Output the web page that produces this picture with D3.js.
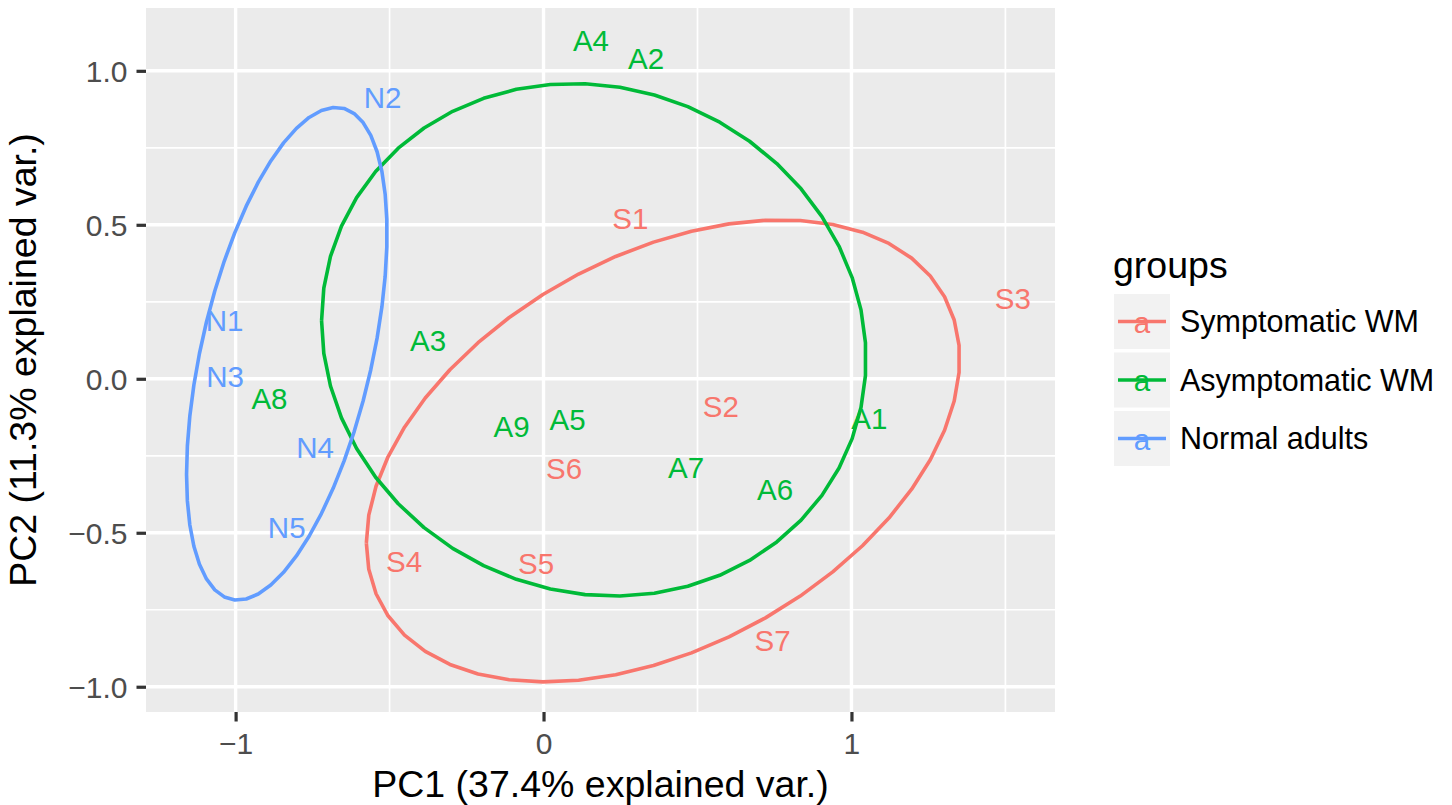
<!DOCTYPE html>
<html>
<head>
<meta charset="utf-8">
<script src="https://cdn.jsdelivr.net/npm/d3@7"></script>
<style>
  html, body { margin: 0; padding: 0; background: #ffffff; }
  svg { display: block; font-family: "Liberation Sans", Arial, Helvetica, sans-serif; }
</style>
</head>
<body>
<svg id="chart" width="1452" height="805"></svg>
<script>
// PCA scores per sample
const sampleLabels = ["S1", "S2", "S3", "S4", "S5", "S6", "S7",
                      "A1", "A2", "A3", "A4", "A5", "A6", "A7", "A8", "A9",
                      "N1", "N2", "N3", "N4", "N5"];
const sampleGroups = ["Symptomatic WM", "Symptomatic WM", "Symptomatic WM", "Symptomatic WM",
                      "Symptomatic WM", "Symptomatic WM", "Symptomatic WM",
                      "Asymptomatic WM", "Asymptomatic WM", "Asymptomatic WM", "Asymptomatic WM",
                      "Asymptomatic WM", "Asymptomatic WM", "Asymptomatic WM", "Asymptomatic WM",
                      "Asymptomatic WM",
                      "Normal adults", "Normal adults", "Normal adults", "Normal adults", "Normal adults"];
const pc1Scores = [0.282, 0.576, 1.524, -0.453, -0.024, 0.067, 0.744,
                   1.058, 0.333, -0.375, 0.154, 0.078, 0.752, 0.463, -0.890, -0.104,
                   -1.036, -0.523, -1.034, -0.742, -0.834];
const pc2Scores = [0.522, -0.089, 0.260, -0.592, -0.600, -0.290, -0.850,
                   -0.129, 1.040, 0.124, 1.098, -0.131, -0.358, -0.288, -0.063, -0.154,
                   0.191, 0.915, 0.007, -0.223, -0.483];

// group levels and axis ticks
const groupNames = ["Symptomatic WM", "Asymptomatic WM", "Normal adults"];
const xTickValues = [-1, 0, 1];
const xTickLabels = ["\u22121", "0", "1"];
const yTickValues = [-1.0, -0.5, 0.0, 0.5, 1.0];
const yTickLabels = ["\u22121.0", "\u22120.5", "0.0", "0.5", "1.0"];
const xMinorValues = [-0.5, 0.5, 1.5];
const yMinorValues = [-0.75, -0.25, 0.25, 0.75];
const xDomain = [-1.291, 1.661];
const yDomain = [-1.082, 1.204];
const ellipseProb = 0.68;

const groupColors = ["#F8766D", "#00BA38", "#619CFF"];

const samples = sampleLabels.map((lab, i) => ({
  label: lab, group: sampleGroups[i], x: pc1Scores[i], y: pc2Scores[i]
}));

const svg = d3.select("#chart");
const panel = { left: 146, top: 8, right: 1055, bottom: 712 };

const x = d3.scaleLinear().domain(xDomain).range([panel.left, panel.right]);
const y = d3.scaleLinear().domain(yDomain).range([panel.bottom, panel.top]);
const color = d3.scaleOrdinal().domain(groupNames).range(groupColors);

// panel background
svg.append("rect")
  .attr("x", panel.left).attr("y", panel.top)
  .attr("width", panel.right - panel.left).attr("height", panel.bottom - panel.top)
  .attr("fill", "#EBEBEB");

const grid = svg.append("g");
// minor grid
grid.selectAll("line.xminor").data(xMinorValues).join("line")
  .attr("x1", d => x(d)).attr("x2", d => x(d))
  .attr("y1", panel.top).attr("y2", panel.bottom)
  .attr("stroke", "#ffffff").attr("stroke-width", 1.7);
grid.selectAll("line.yminor").data(yMinorValues).join("line")
  .attr("y1", d => y(d)).attr("y2", d => y(d))
  .attr("x1", panel.left).attr("x2", panel.right)
  .attr("stroke", "#ffffff").attr("stroke-width", 1.7);
// major grid
grid.selectAll("line.xmajor").data(xTickValues).join("line")
  .attr("x1", d => x(d)).attr("x2", d => x(d))
  .attr("y1", panel.top).attr("y2", panel.bottom)
  .attr("stroke", "#ffffff").attr("stroke-width", 3.4);
grid.selectAll("line.ymajor").data(yTickValues).join("line")
  .attr("y1", d => y(d)).attr("y2", d => y(d))
  .attr("x1", panel.left).attr("x2", panel.right)
  .attr("stroke", "#ffffff").attr("stroke-width", 3.4);

// sample labels
svg.append("g").selectAll("text").data(samples).join("text")
  .attr("x", d => x(d.x))
  .attr("y", d => y(d.y))
  .attr("dy", "0.36em")
  .attr("text-anchor", "middle")
  .attr("font-size", 29.5)
  .attr("fill", d => color(d.group))
  .text(d => d.label);

// normal-probability ellipse for each group (mean + cholesky of covariance)
function groupEllipse(pts) {
  const n = pts.length;
  const mx = d3.mean(pts, p => p.x), my = d3.mean(pts, p => p.y);
  let sxx = 0, syy = 0, sxy = 0;
  pts.forEach(p => {
    sxx += (p.x - mx) ** 2; syy += (p.y - my) ** 2; sxy += (p.x - mx) * (p.y - my);
  });
  sxx /= (n - 1); syy /= (n - 1); sxy /= (n - 1);
  const r11 = Math.sqrt(sxx), r12 = sxy / r11, r22 = Math.sqrt(syy - r12 * r12);
  const ed = Math.sqrt(-2 * Math.log(1 - ellipseProb));
  const out = [];
  const m = 50;
  for (let k = 0; k < m; k++) {
    const t = -Math.PI + 2 * Math.PI * k / (m - 1);
    const c = Math.cos(t), s = Math.sin(t);
    out.push([mx + ed * c * r11, my + ed * (c * r12 + s * r22)]);
  }
  return out;
}

const line = d3.line().x(d => x(d[0])).y(d => y(d[1]));
svg.append("g").selectAll("path").data(groupNames).join("path")
  .attr("d", g => line(groupEllipse(samples.filter(s => s.group === g))))
  .attr("fill", "none")
  .attr("stroke", g => color(g))
  .attr("stroke-width", 3.6)
  .attr("stroke-linejoin", "round");

// axes
const xAxis = svg.append("g")
  .attr("transform", `translate(0,${panel.bottom})`)
  .call(d3.axisBottom(x).tickValues(xTickValues)
    .tickFormat((d, i) => xTickLabels[i]).tickSize(9.5).tickPadding(4));
const yAxis = svg.append("g")
  .attr("transform", `translate(${panel.left},0)`)
  .call(d3.axisLeft(y).tickValues(yTickValues)
    .tickFormat((d, i) => yTickLabels[i]).tickSize(9.5).tickPadding(9));
[xAxis, yAxis].forEach(a => {
  a.select(".domain").remove();
  a.selectAll(".tick line").attr("stroke", "#333333").attr("stroke-width", 3.2);
  a.selectAll(".tick text").attr("fill", "#4D4D4D").attr("font-size", 30)
    .attr("font-family", "\"Liberation Sans\", Arial, Helvetica, sans-serif");
});
xAxis.selectAll(".tick text").attr("dy", null).attr("y", 41.5);
yAxis.selectAll(".tick text").attr("dy", "0.36em");

// axis titles
svg.append("text")
  .attr("x", (panel.left + panel.right) / 2).attr("y", 797)
  .attr("text-anchor", "middle").attr("font-size", 37.5).attr("fill", "#000")
  .text("PC1 (37.4% explained var.)");
svg.append("text")
  .attr("transform", `translate(36,${(panel.top + panel.bottom) / 2}) rotate(-90)`)
  .attr("text-anchor", "middle").attr("font-size", 37.5).attr("fill", "#000")
  .text("PC2 (11.3% explained var.)");

// legend
const legend = svg.append("g").attr("transform", "translate(1113,0)");
legend.append("text").attr("x", 0).attr("y", 278)
  .attr("font-size", 37.5).attr("fill", "#000").text("groups");
const keyH = 55, keyW = 56, keyStep = 58.5, keyTop = 294;
const keys = legend.selectAll("g.key").data(groupNames).join("g")
  .attr("transform", (d, i) => `translate(1,${keyTop + i * keyStep})`);
keys.append("rect").attr("width", keyW).attr("height", keyH).attr("fill", "#F2F2F2");
keys.append("line")
  .attr("x1", 4).attr("x2", keyW - 4)
  .attr("y1", keyH / 2).attr("y2", keyH / 2)
  .attr("stroke", d => color(d)).attr("stroke-width", 3.6);
keys.append("text")
  .attr("x", keyW / 2).attr("y", keyH / 2 + 11)
  .attr("text-anchor", "middle").attr("font-size", 29.5)
  .attr("fill", d => color(d)).text("a");
keys.append("text")
  .attr("x", 66).attr("y", keyH / 2 + 10.5)
  .attr("font-size", 30.5).attr("fill", "#000").text(d => d);
</script>
</body>
</html>
